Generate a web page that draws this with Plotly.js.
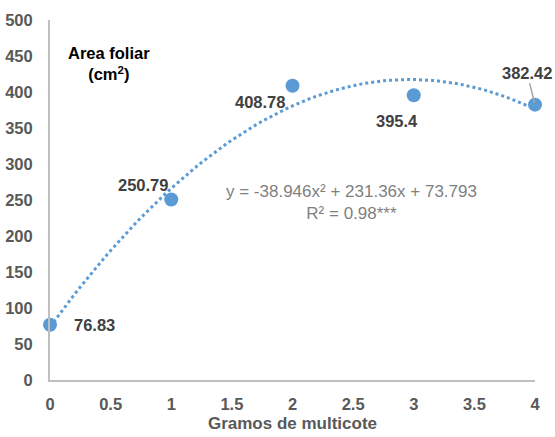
<!DOCTYPE html>
<html><head><meta charset="utf-8">
<script src="https://cdn.plot.ly/plotly-3.0.1.min.js"></script>
<style>body{margin:0;background:#fff}#chart{width:555px;height:437px}</style>
</head><body><div id="chart"></div>
<script>
const grams = [0, 1, 2, 3, 4];
const leafArea = [76.83, 250.79, 408.78, 395.4, 382.42];
const pointLabels = ['76.83', '250.79', '408.78', '395.4', '382.42'];
const trendCoef = [-38.946, 231.36, 73.793]; // from displayed equation
const xTicks = [0, 0.5, 1, 1.5, 2, 2.5, 3, 3.5, 4];
const xTickText = ['0', '0.5', '1', '1.5', '2', '2.5', '3', '3.5', '4'];

const tx = [], ty = [];
for (let i = 0; i <= 80; i++) {
  const x = i / 20;
  tx.push(x);
  ty.push(trendCoef[0] * x * x + trendCoef[1] * x + trendCoef[2]);
}

const blue = '#5B9BD5';
const fam = 'Liberation Sans, Arial, sans-serif';
const labelFont = {family: fam, size: 16.5, color: '#404040', weight: 'bold'};
// [xshift, yshift] in px (yshift positive = up)
const offsets = [[44, 0], [-28, 14], [-33, -16], [-17, -26], [0, 0]];

const annotations = grams.slice(0, 4).map((g, i) => ({
  x: g, y: leafArea[i], xref: 'x', yref: 'y',
  text: pointLabels[i], showarrow: false,
  xshift: offsets[i][0], yshift: offsets[i][1],
  font: labelFont
}));
annotations.push({
  x: 4, y: leafArea[4], xref: 'x', yref: 'y', text: pointLabels[4],
  showarrow: true, arrowhead: 0, arrowwidth: 1.5, arrowcolor: '#A6A6A6',
  ax: -8, ay: -32, standoff: 2, font: labelFont
});
annotations.push({
  x: 2.49, y: 246, xref: 'x', yref: 'y', showarrow: false,
  text: 'y = -38.946x² + 231.36x + 73.793<br>R² = 0.98***',
  font: {family: fam, size: 17, color: '#7F7F7F'},
  align: 'center'
});
annotations.push({
  x: 0.49, y: 440, xref: 'x', yref: 'y', showarrow: false,
  text: 'Area foliar<br>(cm<sup>2</sup>)', align: 'center',
  font: {family: fam, size: 16.5, color: '#000000', weight: 'bold'}
});

const data = [
  {x: tx, y: ty, mode: 'lines', line: {color: blue, width: 3, dash: 'dot'}, hoverinfo: 'skip', cliponaxis: false},
  {x: grams, y: leafArea, mode: 'markers', marker: {color: blue, size: 14}, cliponaxis: false}
];

const tickFont = {family: fam, size: 16.5, color: '#595959', weight: 'bold'};
const layout = {
  width: 555, height: 437,
  margin: {l: 50, r: 20, t: 20, b: 57},
  showlegend: false,
  paper_bgcolor: '#fff', plot_bgcolor: '#fff',
  xaxis: {
    range: [0, 4], tickvals: xTicks, ticktext: xTickText,
    showgrid: false, zeroline: false, showline: true, linecolor: '#BFBFBF', linewidth: 2,
    ticks: '', tickfont: tickFont, ticklabelstandoff: 8,
    title: {text: 'Gramos de multicote', font: {family: fam, size: 17, color: '#595959', weight: 'bold'}, standoff: 5}
  },
  yaxis: {
    range: [0, 500], dtick: 50, tick0: 0,
    showgrid: false, zeroline: false, showline: true, linecolor: '#BFBFBF', linewidth: 2,
    ticks: '', tickfont: tickFont, ticklabelstandoff: 12
  },
  annotations: annotations
};
Plotly.newPlot('chart', data, layout, {displayModeBar: false, staticPlot: true});
</script></body></html>
